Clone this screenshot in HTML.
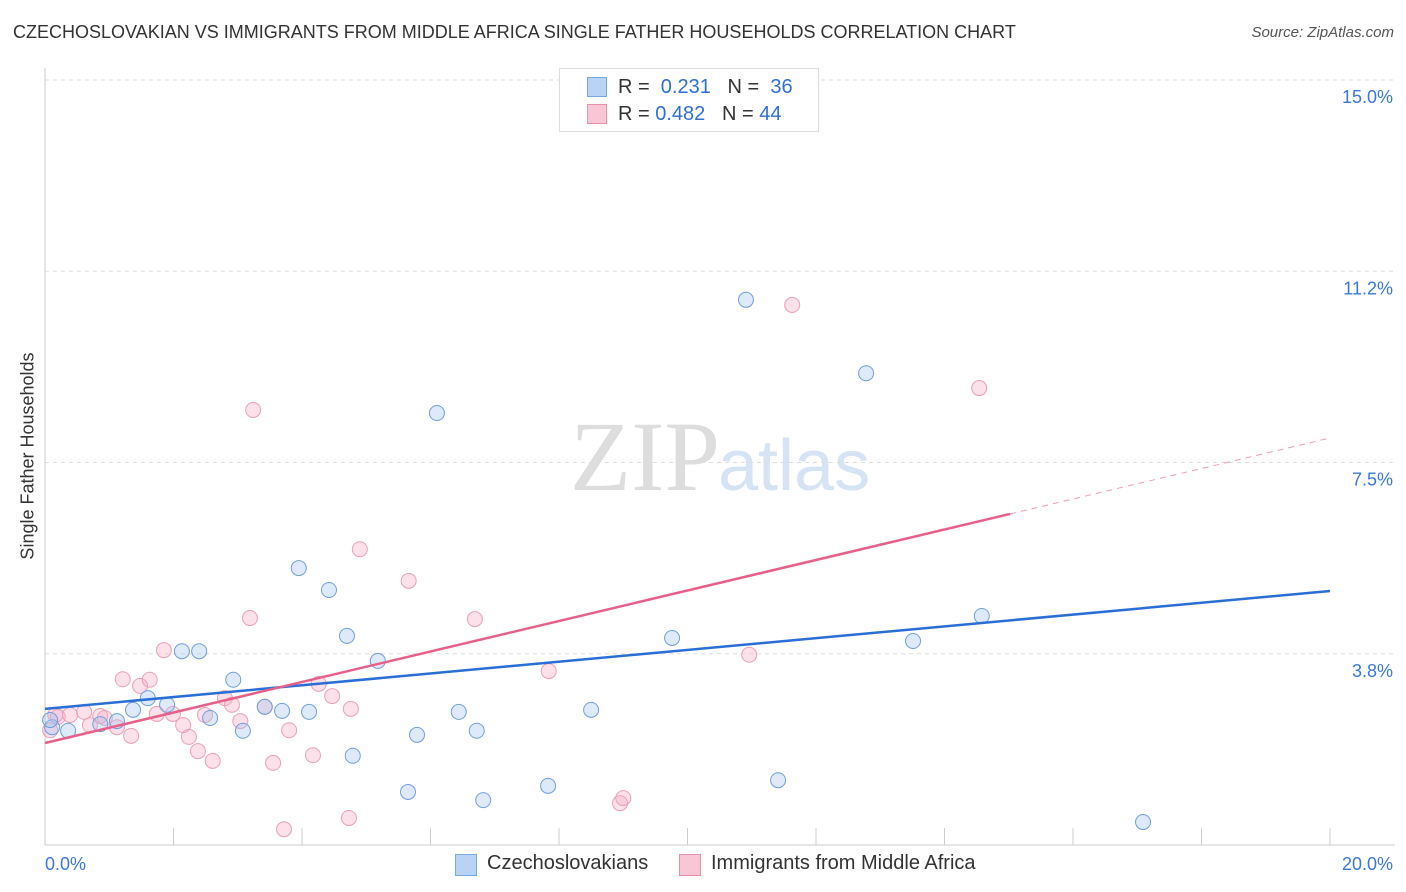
<!DOCTYPE html>
<html><head><meta charset="utf-8"><style>
body{margin:0;background:#fff;font-family:"Liberation Sans",sans-serif;}
#c{position:relative;width:1406px;height:892px;overflow:hidden;}
.t{position:absolute;white-space:nowrap;}
</style></head><body>
<div id="c">
<div class="t" style="left:13px;top:22px;font-size:18px;color:#333;">CZECHOSLOVAKIAN VS IMMIGRANTS FROM MIDDLE AFRICA SINGLE FATHER HOUSEHOLDS CORRELATION CHART</div>
<div class="t" style="right:12px;top:24px;font-size:15px;color:#555;font-style:italic;">Source: ZipAtlas.com</div>
<div class="t" style="left:28px;top:456px;font-size:18px;color:#333;transform:translate(-50%,-50%) rotate(-90deg);">Single Father Households</div>
<svg id="s" width="1406" height="892" style="position:absolute;left:0;top:0">
<text x="720" y="490" text-anchor="end" font-family="Liberation Serif" font-size="100" fill="#ddd">ZIP</text>
<text x="718" y="490" font-family="Liberation Sans" font-size="72" fill="#d5e3f5">atlas</text>
</svg>
<div style="position:absolute;left:559px;top:68px;width:258px;height:62px;border:1px solid #ddd;background:#fff;font-size:20px;color:#333;">
<div style="position:absolute;left:27px;top:8px;width:18px;height:18px;background:#b9d3f5;border:1px solid #7aa8e0"></div>
<div class="t" style="left:58px;top:7px">R = &nbsp;<span style="color:#2f6fd6">0.231</span>&nbsp;&nbsp;&nbsp;N = &nbsp;<span style="color:#2f6fd6">36</span></div>
<div style="position:absolute;left:27px;top:35px;width:18px;height:18px;background:#f8c6d5;border:1px solid #e890aa"></div>
<div class="t" style="left:58px;top:34px">R = <span style="color:#2f6fd6">0.482</span>&nbsp;&nbsp;&nbsp;N = <span style="color:#2f6fd6">44</span></div>
</div>
<div style="position:absolute;left:455px;top:852px;font-size:20px;color:#333;">
<div style="position:absolute;left:0;top:2px;width:20px;height:20px;background:#b9d3f5;border:1px solid #7aa8e0"></div>
<div class="t" style="left:32px;top:0">Czechoslovakians</div>
<div style="position:absolute;left:224px;top:2px;width:20px;height:20px;background:#f8c6d5;border:1px solid #e890aa"></div>
<div class="t" style="left:256px;top:0">Immigrants from Middle Africa</div>
</div>
</div>
<script>
const yTicks=[3.75,7.5,11.25,15];
const yTickLabels=["3.8%","7.5%","11.2%","15.0%"];
const xTicks=[0,2,4,6,8,10,12,14,16,18,20];
const blueX=[0.11,0.36,0.86,1.12,1.37,1.60,1.90,2.13,2.40,2.57,2.93,3.08,3.42,3.69,3.95,4.11,4.42,4.70,4.79,5.18,5.65,5.79,6.10,6.44,6.72,6.82,7.83,8.50,9.76,10.91,11.41,12.78,13.51,14.58,17.09,0.08];
const blueY=[2.31,2.24,2.37,2.43,2.65,2.88,2.75,3.80,3.80,2.49,3.24,2.24,2.71,2.63,5.43,2.61,5.00,4.10,1.75,3.61,1.04,2.16,8.47,2.61,2.24,0.88,1.16,2.65,4.06,10.69,1.27,9.25,4.00,4.49,0.45,2.45];
const pinkX=[0.08,0.20,0.39,0.61,0.70,0.93,1.12,1.21,1.34,1.48,1.63,1.74,1.85,1.99,2.15,2.24,2.38,2.49,2.61,2.80,2.91,3.04,3.19,3.24,3.42,3.55,3.72,3.80,4.17,4.26,4.47,4.73,4.76,4.90,5.66,6.69,7.84,8.95,9.00,10.96,11.63,14.54,0.16,0.86];
const pinkY=[2.25,2.51,2.55,2.61,2.35,2.49,2.31,3.25,2.14,3.12,3.24,2.57,3.82,2.57,2.35,2.12,1.84,2.55,1.65,2.88,2.75,2.43,4.45,8.53,2.71,1.61,0.31,2.25,1.76,3.16,2.92,0.53,2.67,5.80,5.18,4.43,3.41,0.82,0.92,3.73,10.59,8.96,2.55,2.53];
const blueTrend=[2.67,4.98];
const pinkTrend=[2.0,7.98];
const pinkSolidEnd=15.02;
const X=v=>45+v*64.25, Y=v=>845-v*51.0;
const s=document.getElementById('s'),NS='http://www.w3.org/2000/svg';
function mk(t,a,n){const e=document.createElementNS(NS,t);for(const k in a)e.setAttribute(k,a[k]);


s.appendChild(e);return e;}
yTicks.forEach((v,i)=>{
mk('line',{x1:45,x2:1395,y1:Y(v),y2:Y(v),stroke:'#ddd','stroke-dasharray':'4,4'},'grid-line');
const t=mk('text',{x:1393,y:Y(v)+23,'text-anchor':'end','font-size':18,fill:'#3a78d8','font-family':'Liberation Sans'},'y-tick-label');t.textContent=yTickLabels[i];});
mk('line',{x1:45,x2:45,y1:68,y2:845,stroke:'#ccc'},'y-axis');
mk('line',{x1:45,x2:1395,y1:845,y2:845,stroke:'#ccc'},'x-axis');
xTicks.forEach(v=>mk('line',{x1:X(v),x2:X(v),y1:828,y2:845,stroke:'#ccc'},'x-tick'));
let t=mk('text',{x:45,y:870,'font-size':18,fill:'#3a78d8','font-family':'Liberation Sans'},'x-min-label');t.textContent='0.0%';
t=mk('text',{x:1393,y:870,'text-anchor':'end','font-size':18,fill:'#3a78d8','font-family':'Liberation Sans'},'x-max-label');t.textContent='20.0%';
pinkX.forEach((x,i)=>mk('circle',{cx:X(x),cy:Y(pinkY[i]),r:7.5,fill:'rgba(245,170,195,0.35)',stroke:'#eaa0b8','stroke-width':1},'pink-point'));
blueX.forEach((x,i)=>mk('circle',{cx:X(x),cy:Y(blueY[i]),r:7.5,fill:'rgba(160,195,240,0.35)',stroke:'#6f9fdc','stroke-width':1},'blue-point'));
mk('line',{x1:X(0),y1:Y(blueTrend[0]),x2:X(20),y2:Y(blueTrend[1]),stroke:'#2a6fd6','stroke-width':2.5},'blue-trend-line');
const pm=pinkTrend[0]+(pinkTrend[1]-pinkTrend[0])*pinkSolidEnd/20;
mk('line',{x1:X(0),y1:Y(pinkTrend[0]),x2:X(pinkSolidEnd),y2:Y(pm),stroke:'#e8608a','stroke-width':2.5},'pink-trend-line');
mk('line',{x1:X(pinkSolidEnd),y1:Y(pm),x2:X(20),y2:Y(pinkTrend[1]),stroke:'#e8a0b5','stroke-width':1,'stroke-dasharray':'6,5'},'pink-trend-extension');
</script>
</body></html>
